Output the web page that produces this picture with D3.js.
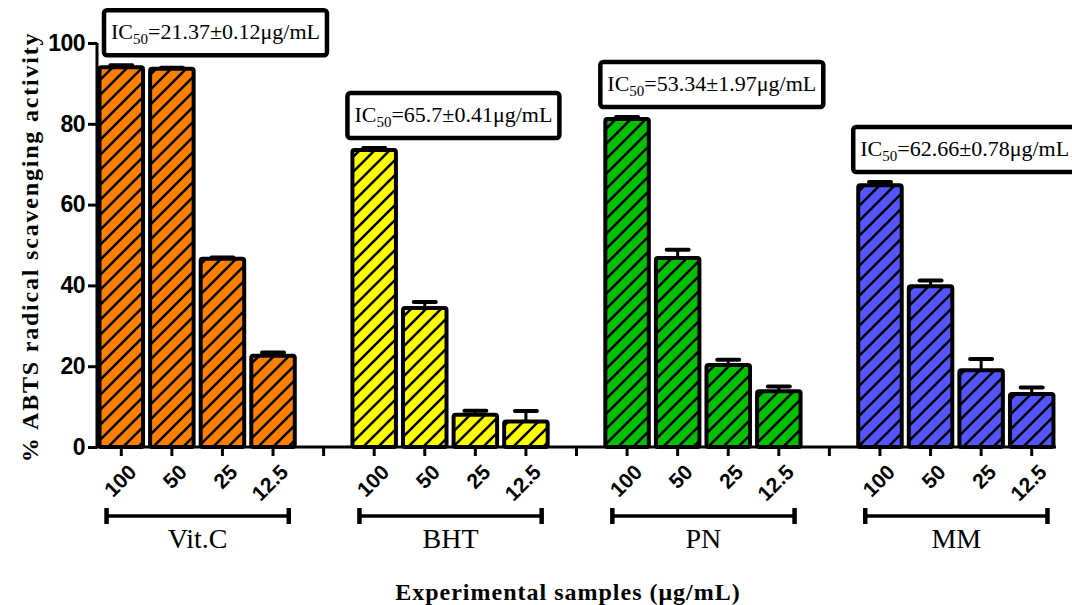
<!DOCTYPE html>
<html>
<head>
<meta charset="utf-8">
<script src="https://cdn.jsdelivr.net/npm/d3@7"></script>
<style>
  body { margin: 0; background: #fff; }
  svg { display: block; }
</style>
</head>
<body>
<div class="chart"><svg></svg></div>
<script>
"use strict";

const WIDTH = 1072;
const HEIGHT = 605;

// data
const groups = ['Vit.C', 'BHT', 'PN', 'MM'];
const concentrations = ['100', '50', '25', '12.5'];
const vitC = [94.0, 93.6, 46.6, 22.6];
const vitCErr = [0.5, 0.3, 0.3, 0.8];
const bht = [73.5, 34.4, 8.0, 6.3];
const bhtErr = [0.5, 1.5, 1.0, 2.6];
const pn = [81.2, 46.8, 20.3, 13.8];
const pnErr = [0.5, 2.0, 1.3, 1.2];
const mm = [64.8, 39.8, 19.0, 13.1];
const mmErr = [0.8, 1.4, 2.8, 1.6];
const ic50 = ['21.37±0.12', '65.7±0.41', '53.34±1.97', '62.66±0.78'];
const colors = ['#ff8000', '#ffff00', '#00c000', '#5555ff'];
const yTicks = [0, 20, 40, 60, 80, 100];

const seriesVals = [vitC, bht, pn, mm];
const seriesErr = [vitCErr, bhtErr, pnErr, mmErr];

// slots: 4 bars per group, one empty slot between groups
let slots = [];
let bars = [];
groups.forEach((g, gi) => {
  concentrations.forEach((c, ci) => {
    const key = g + '|' + c;
    slots.push(key);
    bars.push({key: key, group: gi, conc: c, value: seriesVals[gi][ci], err: seriesErr[gi][ci]});
  });
  if (gi < groups.length - 1) slots.push('gap' + gi);
});

const svg = d3.select('svg')
  .attr('width', WIDTH)
  .attr('height', HEIGHT);

svg.append('rect').attr('width', WIDTH).attr('height', HEIGHT).attr('fill', '#fff');

const x = d3.scaleBand()
  .domain(slots)
  .range([96, 1057])
  .paddingInner(0.14)
  .paddingOuter(0.07);

const y = d3.scaleLinear()
  .domain([0, 100])
  .range([447, 43]);

// hatch patterns
const defs = svg.append('defs');
colors.forEach((col, i) => {
  const p = defs.append('pattern')
    .attr('id', 'hatch' + i)
    .attr('patternUnits', 'userSpaceOnUse')
    .attr('width', 15)
    .attr('height', 15);
  p.append('rect').attr('width', 15).attr('height', 15).attr('fill', col);
  p.append('path')
    .attr('d', 'M-4,4 L4,-4 M0,15 L15,0 M11,19 L19,11')
    .attr('stroke', '#000')
    .attr('stroke-width', 2.6);
});

// bars
const groupBars = svg.append('g');
groupBars.selectAll('rect')
  .data(bars)
  .join('rect')
  .attr('x', d => x(d.key))
  .attr('y', d => y(d.value))
  .attr('width', x.bandwidth())
  .attr('height', d => y(0) - y(d.value))
  .attr('rx', 2)
  .attr('fill', d => 'url(#hatch' + d.group + ')')
  .attr('stroke', '#000')
  .attr('stroke-width', 4);

// error bars (upper only)
const groupErr = svg.append('g');
groupErr.selectAll('line.stem')
  .data(bars)
  .join('line')
  .attr('class', 'stem')
  .attr('x1', d => x(d.key) + x.bandwidth() / 2)
  .attr('x2', d => x(d.key) + x.bandwidth() / 2)
  .attr('y1', d => y(d.value))
  .attr('y2', d => y(d.value + d.err))
  .attr('stroke', '#000')
  .attr('stroke-width', 3);
groupErr.selectAll('line.cap')
  .data(bars)
  .join('line')
  .attr('class', 'cap')
  .attr('x1', d => x(d.key) + x.bandwidth() / 2 - 11)
  .attr('x2', d => x(d.key) + x.bandwidth() / 2 + 11)
  .attr('y1', d => y(d.value + d.err))
  .attr('y2', d => y(d.value + d.err))
  .attr('stroke', '#000')
  .attr('stroke-width', 4)
  .attr('stroke-linecap', 'round');

// y axis
const yAxis = svg.append('g')
  .attr('transform', 'translate(97,0)')
  .call(d3.axisLeft(y).tickValues(yTicks).tickSize(9).tickPadding(3));
yAxis.select('.domain').attr('stroke-width', 3).attr('d', 'M0,' + y(100) + 'V' + y(0));
yAxis.selectAll('.tick line').attr('stroke-width', 3);
yAxis.selectAll('.tick text')
  .attr('font-family', '"Liberation Sans", Arial, sans-serif')
  .attr('font-weight', 'bold')
  .attr('font-size', 23)
  .attr('letter-spacing', -0.5)
  .attr('fill', '#000');

// x axis
const xAxis = svg.append('g')
  .attr('transform', 'translate(0,' + y(0) + ')')
  .call(d3.axisBottom(x).tickSize(9).tickFormat(''));
xAxis.select('.domain').attr('stroke-width', 3).attr('d', 'M96,0H1056');
xAxis.selectAll('.tick line').attr('stroke-width', 3);

// rotated concentration labels
svg.append('g').selectAll('text')
  .data(bars)
  .join('text')
  .attr('transform', d => 'translate(' + (x(d.key) + x.bandwidth() / 2 + 6) + ',' + (y(0) + 16) + ') rotate(-45)')
  .attr('text-anchor', 'end')
  .attr('dy', '0.7em')
  .attr('font-family', '"Liberation Sans", Arial, sans-serif')
  .attr('font-weight', 'bold')
  .attr('font-size', 21)
  .text(d => d.conc);

// group brackets and names
const bracketY = 516;
const gBr = svg.append('g').selectAll('g')
  .data(groups)
  .join('g');
gBr.each(function(g) {
  const first = x(g + '|' + concentrations[0]);
  const last = x(g + '|' + concentrations[concentrations.length - 1]) + x.bandwidth();
  const x1 = first + 7, x2 = last - 6;
  const sel = d3.select(this);
  sel.append('line').attr('x1', x1).attr('x2', x2).attr('y1', bracketY).attr('y2', bracketY)
    .attr('stroke', '#000').attr('stroke-width', 3.5);
  [x1, x2].forEach(xx => {
    sel.append('line').attr('x1', xx).attr('x2', xx).attr('y1', bracketY - 8).attr('y2', bracketY + 8)
      .attr('stroke', '#000').attr('stroke-width', 4.5);
  });
  sel.append('text')
    .attr('x', (x1 + x2) / 2)
    .attr('y', bracketY + 32)
    .attr('text-anchor', 'middle')
    .attr('font-family', '"Liberation Serif", "Times New Roman", serif')
    .attr('font-size', 28)
    .text(g);
});

// IC50 boxes
const groupBox = svg.append('g');
groups.forEach((g, gi) => {
  const firstKey = g + '|' + concentrations[0];
  const topY = y(seriesVals[gi][0] + seriesErr[gi][0]);
  const boxH = 45;
  const by = topY - 10 - boxH;
  const bx = Math.max(x(firstKey) - 5, 104);
  const gb = groupBox.append('g');
  const rect = gb.append('rect');
  const t = gb.append('text')
    .attr('x', bx + 7)
    .attr('y', by + 29)
    .attr('font-family', '"Liberation Serif", "Times New Roman", serif')
    .attr('font-size', 22);
  t.append('tspan').text('IC');
  t.append('tspan').attr('font-size', 15).attr('dy', 5).text('50');
  t.append('tspan').attr('dy', -5).text('=' + ic50[gi] + 'μg/mL');
  const w = t.node().getComputedTextLength();
  rect.attr('x', bx).attr('y', by).attr('width', w + 14).attr('height', boxH)
    .attr('rx', 3)
    .attr('fill', '#fff')
    .attr('stroke', '#000')
    .attr('stroke-width', 4.5);
});

// axis titles
svg.append('text')
  .attr('transform', 'translate(38,247) rotate(-90)')
  .attr('text-anchor', 'middle')
  .attr('font-family', '"Liberation Serif", "Times New Roman", serif')
  .attr('font-weight', 'bold')
  .attr('font-size', 24)
  .attr('letter-spacing', 1.8)
  .text('% ABTS radical scavenging activity');

svg.append('text')
  .attr('x', 568)
  .attr('y', 600)
  .attr('text-anchor', 'middle')
  .attr('font-family', '"Liberation Serif", "Times New Roman", serif')
  .attr('font-weight', 'bold')
  .attr('font-size', 24)
  .attr('letter-spacing', 1)
  .text('Experimental samples (μg/mL)');
</script>
</body>
</html>
